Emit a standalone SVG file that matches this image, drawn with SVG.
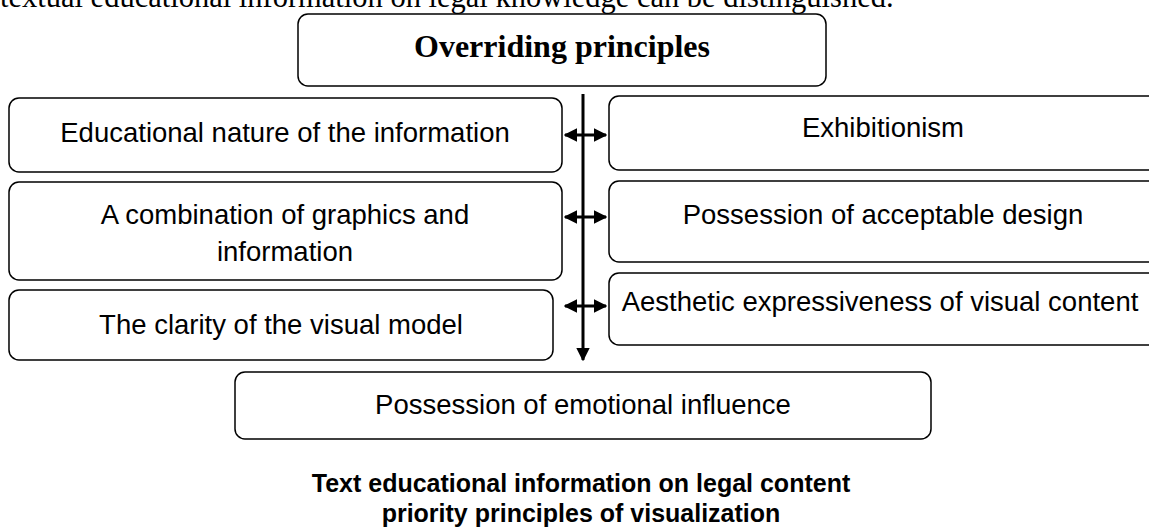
<svg xmlns="http://www.w3.org/2000/svg" width="1149" height="531" viewBox="0 0 1149 531">
<defs>
<style>
.box{fill:#fff;stroke:#000;stroke-width:1.5}
.t{font-family:"Liberation Sans",Arial,sans-serif;font-size:27.5px;fill:#000;text-anchor:middle}
.serif{font-family:"Liberation Serif","Times New Roman",serif;fill:#000}
.cap{font-family:"Liberation Sans",Arial,sans-serif;font-size:25px;font-weight:bold;fill:#000;text-anchor:middle}
.ln{stroke:#000;stroke-width:3;fill:none}
</style>
<marker id="ah" viewBox="0 0 10 10" refX="9" refY="5" markerWidth="4.5" markerHeight="4.5" orient="auto-start-reverse" markerUnits="strokeWidth">
<path d="M0,0 L10,5 L0,10 z" fill="#000"/>
</marker>
</defs>
<rect width="1149" height="531" fill="#fff"/>
<text class="serif" x="0" y="7" font-size="30.5">textual educational information on legal knowledge can be distinguished.</text>
<g id="top">
<rect class="box" x="298" y="14" width="528" height="72" rx="10"/>
<text class="serif" x="562" y="57" font-size="32" font-weight="bold" text-anchor="middle">Overriding principles</text>
</g>
<g id="l1"><rect class="box" x="9" y="98" width="553" height="74" rx="10"/><text class="t" x="285" y="142">Educational nature of the information</text></g>
<g id="l2"><rect class="box" x="9" y="182" width="553" height="98" rx="10"/><text class="t" x="285" y="224">A combination of graphics and</text><text class="t" x="285" y="261">information</text></g>
<g id="l3"><rect class="box" x="9" y="290" width="544" height="70" rx="10"/><text class="t" x="281" y="334">The clarity of the visual model</text></g>
<g id="r1"><rect class="box" x="609" y="96" width="560" height="74" rx="10"/><text class="t" x="883" y="137">Exhibitionism</text></g>
<g id="r2"><rect class="box" x="609" y="181" width="560" height="81" rx="10"/><text class="t" x="883" y="224">Possession of acceptable design</text></g>
<g id="r3"><rect class="box" x="609" y="273" width="560" height="72" rx="10"/><text class="t" x="880" y="311">Aesthetic expressiveness of visual content</text></g>
<g id="b1"><rect class="box" x="235" y="372" width="696" height="67" rx="10"/><text class="t" x="583" y="414">Possession of emotional influence</text></g>
<g id="connectors">
<line class="ln" x1="583" y1="94" x2="583" y2="360" marker-end="url(#ah)"/>
<line class="ln" x1="565" y1="135" x2="606" y2="135" marker-start="url(#ah)" marker-end="url(#ah)"/>
<line class="ln" x1="565" y1="217" x2="606" y2="217" marker-start="url(#ah)" marker-end="url(#ah)"/>
<line class="ln" x1="565" y1="306" x2="606" y2="306" marker-start="url(#ah)" marker-end="url(#ah)"/>
</g>
<text class="cap" x="581" y="492">Text educational information on legal content</text>
<text class="cap" x="581" y="522">priority principles of visualization</text>
</svg>
